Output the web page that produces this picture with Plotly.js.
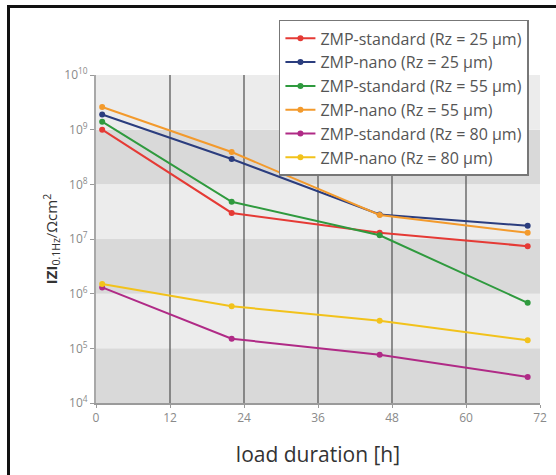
<!DOCTYPE html>
<html><head><meta charset="utf-8">
<script src="https://cdn.plot.ly/plotly-3.0.1.min.js"></script>
<style>
html,body{margin:0;padding:0;background:#fff;overflow:hidden;width:556px;height:475px;}
#chart{position:absolute;left:0;top:0;width:556px;height:475px;}
#frame{position:absolute;left:7px;top:5px;width:620px;height:620px;border:3px solid #111;box-sizing:border-box;pointer-events:none;}
</style></head>
<body>
<div id="chart"></div>
<div id="frame"></div>
<script>
const hours = [1, 22, 46, 70];
const seriesNames = [
  "ZMP-standard (Rz = 25 μm)",
  "ZMP-nano (Rz = 25 μm)",
  "ZMP-standard (Rz = 55 μm)",
  "ZMP-nano (Rz = 55 μm)",
  "ZMP-standard (Rz = 80 μm)",
  "ZMP-nano (Rz = 80 μm)"
];
const std25 = [1.0e9, 3.0e7, 1.3e7, 7.4e6];
const nano25 = [1.9e9, 2.9e8, 2.8e7, 1.75e7];
const std55 = [1.4e9, 4.8e7, 1.17e7, 6.8e5];
const nano55 = [2.6e9, 3.9e8, 2.75e7, 1.3e7];
const std80 = [1.3e6, 1.5e5, 7.6e4, 3.0e4];
const nano80 = [1.5e6, 5.9e5, 3.2e5, 1.4e5];
const seriesColors = ["#e53a35", "#2b3d7e", "#2f9a3e", "#f39a2c", "#b02a86", "#f2c21b"];
const xTicks = [0, 12, 24, 36, 48, 60, 72];
const yTickExp = [4, 5, 6, 7, 8, 9, 10];

const allSeries = [std25, nano25, std55, nano55, std80, nano80];
const traces = allSeries.map((vals, i) => ({
  x: hours, y: vals, name: seriesNames[i], type: "scatter", mode: "lines+markers",
  line: {color: seriesColors[i], width: 2},
  marker: {color: seriesColors[i], size: 6}
}));

const shapes = [];
const yMin = yTickExp[0], yMax = yTickExp[yTickExp.length - 1];
for (let e = yMin; e < yMax; e++) {
  shapes.push({type: "rect", xref: "paper", yref: "paper", x0: 0, x1: 1,
    y0: (e - yMin) / (yMax - yMin), y1: (e + 1 - yMin) / (yMax - yMin),
    fillcolor: ((e - yMin) % 2 === 0) ? "#d9d9d9" : "#ececec", line: {width: 0}, layer: "below"});
}
xTicks.slice(1, -1).forEach(t => {
  shapes.push({type: "line", xref: "x", yref: "paper", x0: t, x1: t, y0: 0, y1: 1,
    line: {color: "#5a5a5a", width: 1.3}, layer: "below"});
});

const layout = {
  width: 556, height: 475,
  margin: {l: 96, r: 16, t: 75, b: 72},
  paper_bgcolor: "#fff", plot_bgcolor: "rgba(0,0,0,0)",
  font: {family: "Open Sans, sans-serif", color: "#666"},
  shapes: shapes,
  xaxis: {
    range: [0, 72], tickvals: xTicks, ticktext: xTicks.map(String),
    showgrid: false, zeroline: false, showline: true, linecolor: "#9a9a9a", linewidth: 2,
    ticks: "outside", ticklen: 3, tickcolor: "#9a9a9a",
    tickfont: {size: 12, color: "#8a8a8a"},
    title: {text: "load duration [h]", font: {size: 21, color: "#333"}, standoff: 22}
  },
  yaxis: {
    type: "log", range: [yMin, yMax],
    tickvals: yTickExp.map(e => Math.pow(10, e)),
    ticktext: yTickExp.map(e => "10<sup>" + e + "</sup>"),
    showgrid: false, zeroline: false, showline: true, linecolor: "#a8a8a8", linewidth: 2,
    ticks: "outside", ticklen: 4, tickcolor: "#9a9a9a",
    tickfont: {size: 12, color: "#8a8a8a"},
    title: {text: "<b>IZI</b><sub>0.1Hz</sub>/Ωcm<sup>2</sup>", font: {size: 15, color: "#333"}, standoff: 3}
  },
  legend: {
    x: 0.412, y: 1.168, xanchor: "left", yanchor: "top",
    bgcolor: "#fff", bordercolor: "#777", borderwidth: 1.5,
    font: {size: 16, color: "#555"}, tracegroupgap: 0, itemwidth: 30
  },
  showlegend: true
};

Plotly.newPlot("chart", traces, layout, {displayModeBar: false, staticPlot: true});
</script>
</body></html>
